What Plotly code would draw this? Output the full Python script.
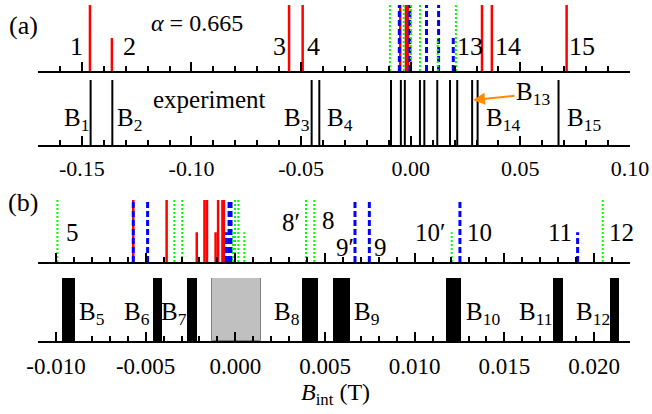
import plotly.graph_objects as go

# ---------------- data ----------------
# Panel (a), upper: theory lines (alpha = 0.665)
a_red_full = [-0.1463, -0.0555, -0.0493, -0.0048, -0.0022, -0.0012, 0.0325, 0.0370, 0.0711]
a_red_short = [-0.1363]
a_blue_full = [-0.0052, -0.0004, 0.0072, 0.0127]
a_blue_short = [0.0194]
a_green_full = [-0.0095, -0.0032, 0.0001, 0.0042, 0.0206]
a_green_short = [0.0123]
# Panel (a), lower: experiment
a_exp = [-0.1460, -0.1361, -0.0452, -0.0417, -0.0090, -0.0045, -0.0027, 0.0042,
         0.0062, 0.0121, 0.0179, 0.0212, 0.0280, 0.0305, 0.0674]

# Panel (b), upper: theory lines
b_red_full = [-0.00569, -0.00383, -0.00172, -0.00158, -0.00096, -0.00072, -0.00064]
b_red_short = [-0.00215, -0.00110]
b_blue_full = [-0.00569, -0.00489, -0.00035, -0.00024, 0.00667, 0.00747, 0.01252]
b_blue_short = [-0.00050, 0.01908]
b_green_full = [-0.00992, -0.00340, -0.00296, -0.00002, 0.00017, 0.00394, 0.00440, 0.02048]
b_green_short = [-0.00013, 0.00050, 0.01206]
# Panel (b), lower: experimental bands
b_exp_start = [-0.00968, -0.00461, -0.00271, 0.00373, 0.00546, 0.01174, 0.01772, 0.02088]
b_exp_end = [-0.00894, -0.00407, -0.00216, 0.00462, 0.00639, 0.01258, 0.01828, 0.02138]
b_gap_start = [-0.00128]
b_gap_end = [0.00143]

FULL, SHORT_A, SHORT_B = 1.0, 0.5, 0.48

a_range = [-0.17, 0.10]
a_ticks = [-0.15, -0.10, -0.05, 0.00, 0.05, 0.10]
a_ticktext = ["-0.15", "-0.10", "-0.05", "0.00", "0.05", "0.10"]
b_range = [-0.011, 0.022]
b_ticks = [-0.010, -0.005, 0.0, 0.005, 0.010, 0.015, 0.020]
b_ticktext = ["-0.010", "-0.005", "0.000", "0.005", "0.010", "0.015", "0.020"]

FONT = "Liberation Serif, Times New Roman, serif"
RED, BLUE, GREEN = "#FF0000", "#0000FF", "#00FF00"
W, H = 652, 414


def vlines(xs, h):
    xx, yy = [], []
    for v in xs:
        xx += [v, v, None]
        yy += [0, h, None]
    return xx, yy


fig = go.Figure()


def add_lines(xs, h, color, width, dash, ax):
    x, y = vlines(xs, h)
    fig.add_trace(go.Scatter(x=x, y=y, mode="lines",
                             line=dict(color=color, width=width, dash=dash),
                             xaxis="x" + ax, yaxis="y" + ax, hoverinfo="skip"))


# (a) upper
add_lines(a_red_full, FULL, RED, 2.5, "solid", "")
add_lines(a_red_short, SHORT_A, RED, 2.5, "solid", "")
add_lines(a_blue_full, FULL, BLUE, 3, "6px,3px", "")
add_lines(a_blue_short, SHORT_A, BLUE, 3, "6px,3px", "")
add_lines(a_green_full, FULL, GREEN, 2, "2px,2px", "")
add_lines(a_green_short, SHORT_A, GREEN, 2, "2px,2px", "")
# (a) lower
add_lines(a_exp, FULL, "black", 2, "solid", "2")
# (b) upper
add_lines(b_red_full, FULL, RED, 2.5, "solid", "3")
add_lines(b_red_short, SHORT_B, RED, 2.5, "solid", "3")
add_lines(b_blue_full, FULL, BLUE, 3, "6px,3px", "3")
add_lines(b_blue_short, SHORT_B, BLUE, 3, "6px,3px", "3")
add_lines(b_green_full, FULL, GREEN, 2, "2px,2px", "3")
add_lines(b_green_short, SHORT_B, GREEN, 2, "2px,2px", "3")
# (b) lower: bands
fig.add_trace(go.Bar(x=[(s + e) / 2 for s, e in zip(b_gap_start, b_gap_end)],
                     y=[FULL] * len(b_gap_start), base=0,
                     width=[e - s for s, e in zip(b_gap_start, b_gap_end)],
                     marker=dict(color="#C0C0C0", line=dict(color="#808080", width=1)),
                     xaxis="x4", yaxis="y4", hoverinfo="skip"))
fig.add_trace(go.Bar(x=[(s + e) / 2 for s, e in zip(b_exp_start, b_exp_end)],
                     y=[FULL] * len(b_exp_start), base=0,
                     width=[e - s for s, e in zip(b_exp_start, b_exp_end)],
                     marker=dict(color="black", line=dict(width=0)),
                     xaxis="x4", yaxis="y4", hoverinfo="skip"))

XDOM = [38 / W, 630 / W]


def ydom(top_px, bot_px):
    return [1 - bot_px / H, 1 - top_px / H]


def xaxis(rng, ticks, text, minor_d, show, anchor, fsize):
    return dict(domain=XDOM, range=rng, anchor=anchor, automargin=False,
                showline=True, linewidth=2, linecolor="black",
                ticks="inside", ticklen=9, tickwidth=2, tickcolor="black",
                tickmode="array", tickvals=ticks, ticktext=text,
                showticklabels=show, showgrid=False, zeroline=False,
                ticklabelstandoff=3,
                tickfont=dict(family=FONT, size=fsize, color="black"),
                minor=dict(tickmode="linear", tick0=0, dtick=minor_d,
                           ticks="inside", ticklen=5, tickwidth=1.5,
                           tickcolor="black", showgrid=False))


def yaxis(dom):
    return dict(domain=dom, range=[0, 1], visible=False, fixedrange=True,
                automargin=False)


anns = []


def ann(text, px, py, size, xanchor="center", yanchor="middle"):
    anns.append(dict(text=text, x=px / W, y=1 - py / H, xref="paper", yref="paper",
                     xanchor=xanchor, yanchor=yanchor, showarrow=False,
                     font=dict(family=FONT, size=size, color="black")))


# panel letters and heading
ann("(a)", 23, 25, 26)
ann("(b)", 23, 203, 26)
ann("<i>α</i> = 0.665", 197, 23, 24)
ann("experiment", 209, 100, 25)
# (a) upper numbers
for t, px in [("1", 76), ("2", 129), ("3", 279), ("4", 313),
              ("13", 470), ("14", 508), ("15", 582)]:
    ann(t, px, 46, 26)
# (a) lower labels
for t, px in [("1", 62), ("2", 115), ("3", 282), ("4", 325), ("14", 484), ("15", 565)]:
    ann("B<sub>" + t + "</sub>", px, 120, 25, xanchor="left")
# B13 with orange arrow
anns.append(dict(text="B<sub>13</sub>", x=473 / W, y=1 - 100 / H, xref="paper", yref="paper",
                 ax=60, ay=-6, axref="pixel", ayref="pixel",
                 showarrow=True, arrowcolor="#FF8C00", arrowwidth=2, arrowhead=2,
                 arrowsize=1.2, standoff=0, startstandoff=0,
                 font=dict(family=FONT, size=25, color="black")))
# (b) upper numbers
for t, px, py in [("5", 72, 232), ("8′", 291, 223), ("8", 328, 220), ("9′", 345, 247),
                  ("9", 380, 247), ("10′", 430, 233), ("10", 479, 233),
                  ("11", 560, 233), ("12", 621, 233)]:
    ann(t, px, py, 25)
# (b) lower labels
for t, px in [("5", 77), ("6", 122), ("7", 159), ("8", 272), ("9", 352),
              ("10", 464), ("11", 517), ("12", 574)]:
    ann("B<sub>" + t + "</sub>", px, 313, 25, xanchor="left")
# axis title
ann("<i>B</i><sub>int</sub> (T)", 335, 394, 24)

fig.update_layout(
    width=W, height=H, margin=dict(l=0, r=0, t=0, b=0, autoexpand=False),
    paper_bgcolor="white", plot_bgcolor="white", showlegend=False,
    barmode="overlay", bargap=0,
    xaxis=xaxis(a_range, a_ticks, a_ticktext, 0.01, False, "y", 22),
    yaxis=yaxis(ydom(5, 71)),
    xaxis2=xaxis(a_range, a_ticks, a_ticktext, 0.01, True, "y2", 22),
    yaxis2=yaxis(ydom(80, 145)),
    xaxis3=xaxis(b_range, b_ticks, b_ticktext, 0.001, False, "y3", 23),
    yaxis3=yaxis(ydom(200, 262)),
    xaxis4=xaxis(b_range, b_ticks, b_ticktext, 0.001, True, "y4", 23),
    yaxis4=yaxis(ydom(278, 341)),
    annotations=anns,
)

fig.write_html("out.html")
